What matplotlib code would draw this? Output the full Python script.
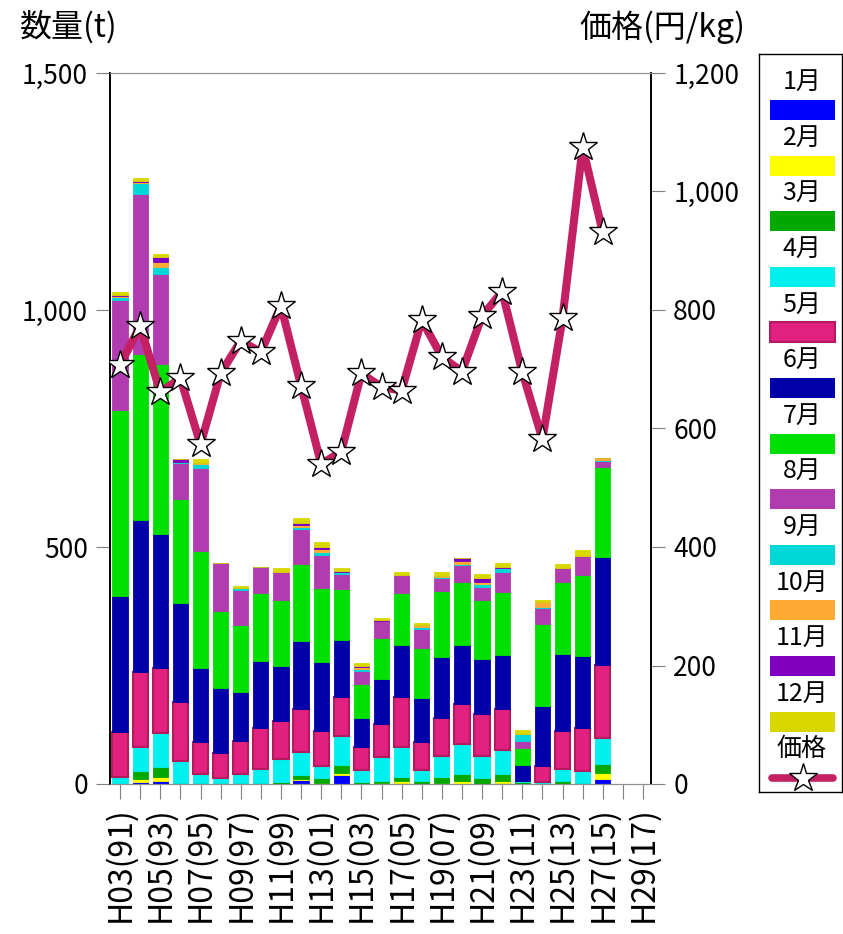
import matplotlib
matplotlib.use("Agg")
import matplotlib.pyplot as plt
from matplotlib.patches import Rectangle
from matplotlib.lines import Line2D
import numpy as np

plt.rcParams['font.family'] = ['Noto Sans CJK JP', 'DejaVu Sans']

# ---- data ----
years = ["H03(91)", "H04(92)", "H05(93)", "H06(94)", "H07(95)", "H08(96)", "H09(97)",
         "H10(98)", "H11(99)", "H12(00)", "H13(01)", "H14(02)", "H15(03)", "H16(04)",
         "H17(05)", "H18(06)", "H19(07)", "H20(08)", "H21(09)", "H22(10)", "H23(11)",
         "H24(12)", "H25(13)", "H26(14)", "H27(15)", "H28(16)", "H29(17)"]
months = ["1月", "2月", "3月", "4月", "5月", "6月", "7月", "8月", "9月", "10月", "11月", "12月"]

jan = [0, 5, 6, 0, 0, 0, 0, 0, 0, 8, 1, 19, 0, 1, 2, 0, 0, 1, 0, 2, 1, 0, 0, 1, 10]
feb = [0, 5, 9, 0, 1, 0, 0, 0, 0, 2, 2, 5, 1, 1, 4, 0, 2, 5, 0, 5, 0, 1, 1, 0, 14]
mar = [0, 17, 21, 3, 2, 2, 2, 3, 4, 10, 9, 16, 4, 5, 9, 7, 13, 16, 12, 14, 4, 0, 6, 2, 18]
apr = [15, 52, 72, 45, 19, 10, 19, 29, 48, 48, 26, 61, 25, 51, 63, 22, 44, 63, 47, 50, 1, 4, 24, 25, 56]
may = [95, 158, 136, 124, 66, 53, 69, 86, 81, 91, 74, 83, 48, 68, 105, 60, 81, 83, 89, 87, 0, 32, 81, 90, 153]
jun = [286, 321, 283, 210, 156, 137, 104, 142, 115, 142, 146, 120, 61, 95, 110, 93, 127, 125, 115, 115, 35, 128, 162, 151, 227]
jul = [393, 350, 360, 220, 248, 164, 142, 144, 140, 163, 155, 107, 73, 86, 111, 105, 141, 134, 125, 132, 34, 172, 153, 171, 190]
aug = [233, 336, 190, 75, 175, 100, 73, 53, 60, 75, 70, 32, 26, 36, 37, 41, 26, 35, 28, 43, 16, 34, 28, 42, 13]
sep = [5, 24, 13, 3, 9, 0, 5, 0, 0, 4, 7, 4, 5, 0, 0, 4, 3, 3, 6, 7, 14, 3, 0, 0, 2]
oct_ = [3, 3, 11, 0, 2, 0, 0, 0, 0, 3, 5, 0, 4, 0, 0, 3, 2, 6, 5, 0, 0, 10, 0, 0, 5]
nov = [2, 1, 10, 5, 0, 0, 0, 0, 0, 4, 5, 3, 3, 3, 0, 0, 0, 6, 7, 3, 0, 0, 0, 0, 0]
dec = [5, 7, 8, 0, 7, 0, 4, 0, 8, 12, 11, 6, 6, 5, 6, 5, 8, 0, 10, 8, 8, 4, 10, 11, 0]

price = [707, 773, 661, 685, 573, 693, 748, 729, 807, 672, 540, 561, 693, 670, 664,
         783, 721, 696, 790, 831, 695, 582, 786, 1075, 931]

series = [jan, feb, mar, apr, may, jun, jul, aug, sep, oct_, nov, dec]
colors = ["#0000ff", "#ffff00", "#00a800", "#00f0f0", "#e2207f", "#0000a8",
          "#00e000", "#b03cb0", "#00d8d8", "#ffaa33", "#8000c0", "#d8d800"]
edges = ["#0000ff", "#ffff00", "#00a800", "#00f0f0", "#b01c5c", "#0000a8",
         "#00e000", "#b03cb0", "#00d8d8", "#ffaa33", "#8000c0", "#d8d800"]
price_color = "#c42064"

# ---- figure ----
fig = plt.figure(figsize=(8.43, 9.34), dpi=100)
ax = fig.add_axes([110/843, 1-784/934, (651-110)/843, (784-73)/934])
ax2 = ax.twinx()

n = len(jan)
x = np.arange(n)
bottom = np.zeros(n)
for s, c, e in zip(series, colors, edges):
    vals = np.array(s, dtype=float)
    lw = 1.5 if e != c else 0.6
    ax.bar(x, vals, width=0.76, bottom=bottom, color=c, edgecolor=e, linewidth=lw, zorder=2)
    bottom += vals

ax.set_xlim(-0.5, 26.4)
ax.set_ylim(0, 1500)
ax.set_yticks([0, 500, 1000, 1500])
ax.set_yticklabels(["0", "500", "1,000", "1,500"], fontsize=19)
ax.set_xticks(np.arange(len(years)))
ax.set_xticklabels([y if i % 2 == 0 else "" for i, y in enumerate(years)],
                   rotation=90, fontsize=23)
ax.tick_params(axis='y', direction='out', length=10, color='#808080', pad=6)
ax.tick_params(axis='x', direction='out', length=11, color='#808080', pad=5)

ax2.plot(x, price, color=price_color, linewidth=5.8, marker='*', markersize=21,
         markerfacecolor='white', markeredgecolor='black', markeredgewidth=1.0, zorder=5)
ax2.set_ylim(0, 1200)
ax2.set_yticks([0, 200, 400, 600, 800, 1000, 1200])
ax2.set_yticklabels(["0", "200", "400", "600", "800", "1,000", "1,200"], fontsize=19)
ax2.tick_params(axis='y', direction='out', length=10, color='#808080', pad=6)

for a in (ax, ax2):
    a.spines['left'].set_color('black')
    a.spines['right'].set_color('black')
    a.spines['top'].set_color('#909090')
    a.spines['bottom'].set_color('#909090')
    a.spines['left'].set_linewidth(1.2)
    a.spines['right'].set_linewidth(1.2)

fig.text(20/843, 1-27/934, "数量(t)", fontsize=23, ha='left', va='center')
fig.text(745/843, 1-27/934, "価格(円/kg)", fontsize=23, ha='right', va='center')

# ---- legend box ----
lx0, lx1, ly0, ly1 = 759, 842, 54, 792
lg = fig.add_axes([lx0/843, 1-ly1/934, (lx1-lx0)/843, (ly1-ly0)/934])
lg.set_xlim(0, lx1-lx0)
lg.set_ylim(ly1-ly0, 0)
lg.set_xticks([])
lg.set_yticks([])
for sp in lg.spines.values():
    sp.set_color('black')
    sp.set_linewidth(1.0)
step = 55.6
for i, (m, c, e) in enumerate(zip(months, colors, edges)):
    ty = 28 + step*i
    py = 56 + step*i
    lg.text(43, ty, m, fontsize=18, ha='center', va='center')
    lw = 1.5 if e != c else 0
    lg.add_patch(Rectangle((11, py-10), 65, 20, facecolor=c, edgecolor=e, linewidth=lw))
lg.text(43, 695, "価格", fontsize=18, ha='center', va='center')
lg.add_line(Line2D([13, 74], [724, 724], color=price_color, linewidth=5.5,
                   solid_capstyle='round'))
lg.plot([43.5], [724], marker='*', markersize=21, markerfacecolor='white',
        markeredgecolor='black', markeredgewidth=1.0, linestyle='none')

fig.savefig("out.png", dpi=100)
